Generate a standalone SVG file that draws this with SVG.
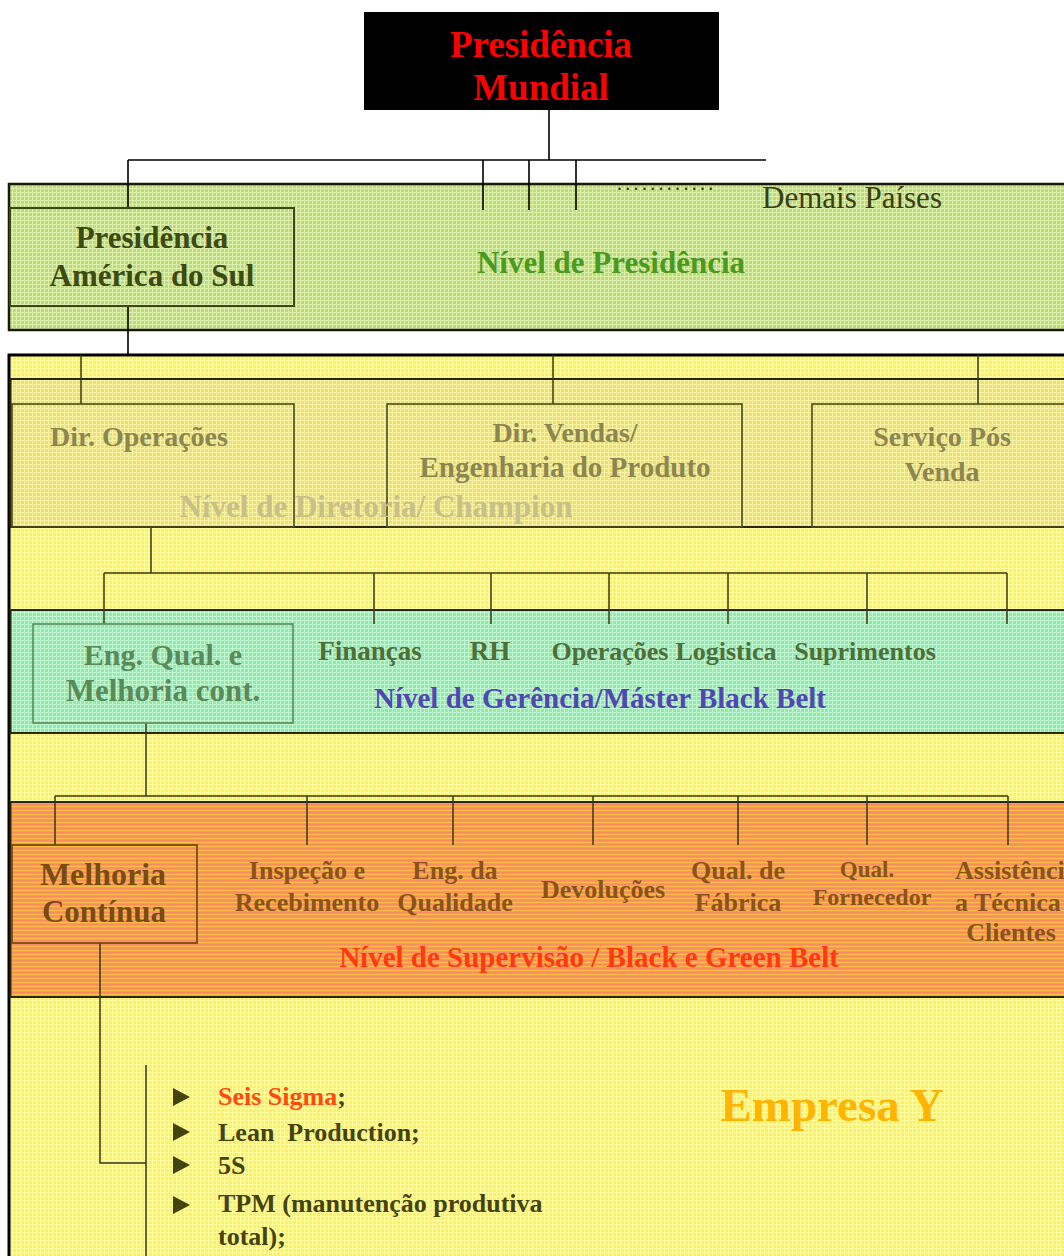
<svg xmlns="http://www.w3.org/2000/svg" width="1064" height="1256" viewBox="0 0 1064 1256">
<style>
text{font-family:"Liberation Serif","Times New Roman",serif;font-weight:bold}
.c{text-anchor:middle}
.ln{stroke:#000;stroke-width:1.6;fill:none}
.lo{stroke:#3a3a10;stroke-width:1.5;fill:none}
.band{stroke:#1a1a08;stroke-width:2.5}
.box{fill:none;stroke:#4a4a18;stroke-width:1.6}
.dir{fill:#8c8650;font-size:28px}
.mgr{fill:#4c7038;font-size:27px}
.sup{fill:#8a5418;font-size:26px}
.lst{fill:#44440e;font-size:26px}
</style>
<defs>
<pattern id="pG" width="4" height="4" patternUnits="userSpaceOnUse"><rect width="4" height="4" fill="#bcdc74"/><path d="M0 0.5H4M0.5 0V4" stroke="#dcefac" stroke-width="1"/></pattern>
<pattern id="pY" width="4" height="4" patternUnits="userSpaceOnUse"><rect width="4" height="4" fill="#fff060"/><path d="M0 0.5H4M0.5 0V4" stroke="#ffffa0" stroke-width="1"/></pattern>
<pattern id="pD" width="4" height="4" patternUnits="userSpaceOnUse"><rect width="4" height="4" fill="#ebe070"/><path d="M0 0.5H4M0.5 0V4" stroke="#f8f2a4" stroke-width="1"/></pattern>
<pattern id="pM" width="4" height="4" patternUnits="userSpaceOnUse"><rect width="4" height="4" fill="#90eab0"/><path d="M0 0.5H4M0.5 0V4" stroke="#c0f6d0" stroke-width="1"/></pattern>
<pattern id="pO" width="4" height="4" patternUnits="userSpaceOnUse"><rect width="4" height="4" fill="#f8a03c"/><path d="M0 0.5H4" stroke="#f88a6a" stroke-width="1"/><path d="M0 2.5H4" stroke="#ffc040" stroke-width="1"/></pattern>
</defs>

<!-- bands -->
<g id="band-presidencia">
<rect x="9" y="184" width="1070" height="146" fill="url(#pG)" class="band"/>
</g>
<g id="band-empresa">
<rect x="9" y="355" width="1070" height="920" fill="url(#pY)" stroke="#000" stroke-width="3"/>
</g>
<g id="band-diretoria">
<rect x="10.5" y="379" width="1070" height="148" fill="url(#pD)" stroke="#2a2a0a" stroke-width="2"/>
</g>
<g id="band-gerencia">
<rect x="10.5" y="610" width="1070" height="123" fill="url(#pM)" stroke="#2a2a0a" stroke-width="2"/>
</g>
<g id="band-supervisao">
<rect x="10.5" y="802" width="1070" height="195" fill="url(#pO)" stroke="#2a2a0a" stroke-width="2"/>
</g>

<!-- connectors -->
<g id="connectors">
<path class="ln" d="M549 110V160M128 160H766M128 160V208M483 160V210M529 160V210M576 160V210"/>
<path class="ln" d="M128 306V355"/>
<path class="lo" d="M81 355V404M553 355V404M978 355V404"/>
<path class="lo" d="M151 527V573M104 573H1007M104 573V624M374 573V624M491 573V624M609 573V624M728 573V624M867 573V624M1007 573V624"/>
<path class="lo" d="M146 723V796M55 796H1008M55 796V845M307 796V845M453 796V845M593 796V845M738 796V845M867 796V845M1008 796V845"/>
<path class="lo" d="M100 943V1163H146M146 1065V1256"/>
</g>

<g id="node-presidencia-mundial">
<rect x="364" y="12" width="355" height="98" fill="#000"/>
<text x="541" y="57" class="c" fill="#ff0000" font-size="37">Presidência</text>
<text x="541" y="100" class="c" fill="#ff0000" font-size="37">Mundial</text>
</g>

<g id="node-demais">
<text x="617" y="190" fill="#3a4010" font-size="20" letter-spacing="3.3" style="font-weight:normal">............</text>
<text x="762" y="208" fill="#3a4010" font-size="31" style="font-weight:normal">Demais Países</text>
</g>

<g id="node-presidencia-as">
<rect x="10" y="208" width="284" height="98" fill="none" stroke="#3a4a12" stroke-width="2"/>
<text x="152" y="248" class="c" fill="#3d4a12" font-size="31">Presidência</text>
<text x="152" y="286" class="c" fill="#3d4a12" font-size="31">América do Sul</text>
</g>
<g id="label-nivel-presidencia">
<text x="611" y="273" class="c" fill="#4a9a20" font-size="31">Nível de Presidência</text>
</g>

<g id="node-dir-operacoes">
<rect x="12" y="404" width="282" height="123" class="box"/>
<text x="139" y="446" class="c dir">Dir. Operações</text>
</g>
<g id="node-dir-vendas">
<rect x="387" y="404" width="355" height="123" class="box"/>
<text x="565" y="442" class="c dir">Dir. Vendas/</text>
<text x="565" y="477" class="c dir" style="font-size:29px">Engenharia do Produto</text>
</g>
<g id="node-servico">
<rect x="812" y="404" width="270" height="123" class="box"/>
<text x="942" y="446" class="c dir">Serviço Pós</text>
<text x="942" y="481" class="c dir">Venda</text>
</g>
<g id="label-nivel-diretoria">
<text x="376" y="517" class="c" fill="#c8c088" font-size="31">Nível de Diretoria/ Champion</text>
</g>

<g id="node-eng-qual">
<rect x="33" y="624" width="260" height="99" fill="none" stroke="#5a8a5a" stroke-width="1.6"/>
<text x="163" y="665" class="c" fill="#5a8a58" font-size="30">Eng. Qual. e</text>
<text x="163" y="701" class="c" fill="#5a8a58" font-size="31">Melhoria cont.</text>
</g>
<g id="node-financas"><text x="370" y="660" class="c mgr">Finanças</text></g>
<g id="node-rh"><text x="490" y="660" class="c mgr">RH</text></g>
<g id="node-operacoes"><text x="610" y="660" class="c mgr" style="font-size:26px">Operações</text></g>
<g id="node-logistica"><text x="726" y="660" class="c mgr" style="font-size:26px">Logistica</text></g>
<g id="node-suprimentos"><text x="865" y="660" class="c mgr" style="font-size:26px">Suprimentos</text></g>
<g id="label-nivel-gerencia">
<text x="600" y="708" class="c" fill="#5048b0" font-size="29">Nível de Gerência/Máster Black Belt</text>
</g>

<g id="node-melhoria">
<rect x="12" y="845" width="185" height="98" fill="none" stroke="#7a4a10" stroke-width="1.8"/>
<text x="103" y="885" class="c" fill="#7a4c14" font-size="32">Melhoria</text>
<text x="104" y="922" class="c" fill="#7a4c14" font-size="31">Contínua</text>
</g>
<g id="node-inspecao"><text x="307" y="879" class="c sup">Inspeção e</text><text x="307" y="911" class="c sup">Recebimento</text></g>
<g id="node-eng-da"><text x="455" y="879" class="c sup">Eng. da</text><text x="455" y="911" class="c sup">Qualidade</text></g>
<g id="node-devolucoes"><text x="603" y="898" class="c sup">Devoluções</text></g>
<g id="node-qual-fabrica"><text x="738" y="879" class="c sup">Qual. de</text><text x="738" y="911" class="c sup">Fábrica</text></g>
<g id="node-qual-fornecedor"><text x="867" y="877" class="c sup" style="font-size:23px">Qual.</text><text x="872" y="905" class="c sup" style="font-size:24px">Fornecedor</text></g>
<g id="node-assistencia"><text x="955" y="879" class="sup">Assistência</text><text x="955" y="911" class="sup">a Técnica</text><text x="1011" y="941" class="c sup">Clientes</text></g>
<g id="label-nivel-supervisao">
<text x="589" y="967" class="c" fill="#ff3a10" font-size="29">Nível de Supervisão / Black e Green Belt</text>
</g>

<g id="node-lista">
<path d="M173 1088L190 1097L173 1106Z M173 1123L190 1132L173 1141Z M173 1156L190 1165L173 1174Z M173 1196L190 1205L173 1214Z" fill="#44440e"/>
<text x="218" y="1105" class="lst"><tspan fill="#ff4a10">Seis Sigma</tspan>;</text>
<text x="218" y="1141" class="lst">Lean&#160; Production;</text>
<text x="218" y="1174" class="lst">5S</text>
<text x="218" y="1212" class="lst">TPM (manutenção produtiva</text>
<text x="218" y="1245" class="lst">total);</text>
</g>
<g id="label-empresa">
<text x="832" y="1121" class="c" fill="#ffb400" font-size="47">Empresa Y</text>
</g>
</svg>
